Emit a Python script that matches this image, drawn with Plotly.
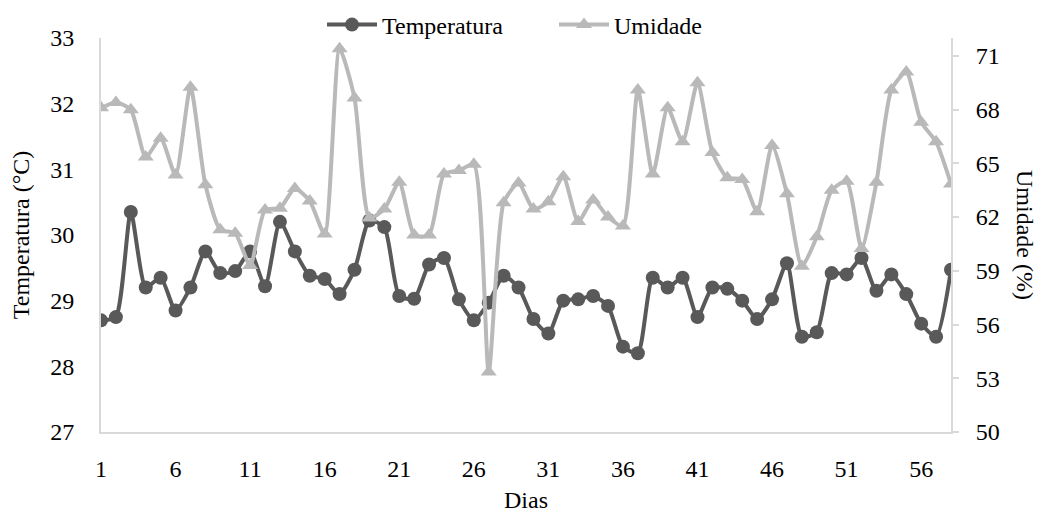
import plotly.graph_objects as go

dias = list(range(1, 59))

temperatura = [
    28.70, 28.75, 30.35, 29.20, 29.35, 28.85, 29.20, 29.75, 29.42, 29.45,
    29.75, 29.22, 30.20, 29.75, 29.38, 29.33, 29.10, 29.47, 30.22, 30.12,
    29.07, 29.03, 29.55, 29.65, 29.02, 28.70, 28.97, 29.38, 29.20, 28.72,
    28.50, 29.00, 29.02, 29.07, 28.92, 28.30, 28.20, 29.35, 29.20, 29.35,
    28.75, 29.20, 29.18, 29.00, 28.72, 29.02, 29.57, 28.45, 28.52, 29.42,
    29.40, 29.65, 29.15, 29.40, 29.10, 28.65, 28.45, 29.47,
]

umidade = [
    68.1, 68.4, 68.0, 65.35, 66.4, 64.35, 69.25, 63.8, 61.3, 61.1,
    59.3, 62.4, 62.5, 63.6, 62.9, 61.05, 71.4, 68.65, 61.95, 62.45,
    63.95, 61.0, 61.0, 64.4, 64.6, 64.95, 53.35, 62.8, 63.9, 62.45,
    62.85, 64.25, 61.75, 62.95, 62.0, 61.5, 69.1, 64.4, 68.1, 66.2,
    69.5, 65.6, 64.2, 64.1, 62.3, 66.0, 63.3, 59.25, 60.9, 63.5,
    64.0, 60.25, 63.95, 69.1, 70.1, 67.3, 66.2, 63.85,
]

x_ticks = [1, 6, 11, 16, 21, 26, 31, 36, 41, 46, 51, 56]
temp_ticks = [27, 28, 29, 30, 31, 32, 33]
umid_ticks = [50, 53, 56, 59, 62, 65, 68, 71]

FONT = "Liberation Serif"
AXIS = "#d9d9d9"
DARK = "#595959"
LIGHT = "#b9b9b9"
TXT = dict(family=FONT, size=24, color="black")

fig = go.Figure()
fig.add_trace(go.Scatter(
    x=dias, y=temperatura, name="Temperatura", mode="lines+markers",
    line=dict(color=DARK, width=4, shape="spline", smoothing=0.6),
    marker=dict(symbol="circle", size=14, color=DARK),
    yaxis="y",
))
fig.add_trace(go.Scatter(
    x=dias, y=umidade, name="Umidade", mode="lines+markers",
    line=dict(color=LIGHT, width=4, shape="spline", smoothing=0.6),
    marker=dict(symbol="triangle-up", size=14, color=LIGHT),
    yaxis="y2",
))

fig.update_layout(
    width=1040, height=513,
    margin=dict(l=101, r=89, t=38, b=81, autoexpand=False),
    paper_bgcolor="white", plot_bgcolor="white",
    font=TXT,
    showlegend=True,
    legend=dict(
        orientation="h", x=(322 - 101) / 850, xanchor="left",
        yref="container", y=1 - 25 / 513, yanchor="middle",
        font=TXT, bgcolor="rgba(0,0,0,0)", itemwidth=50, tracegroupgap=0,
        entrywidth=167, entrywidthmode="pixels",
    ),
    xaxis=dict(
        range=[1, 58], tickvals=x_ticks, ticktext=[str(v) for v in x_ticks],
        showgrid=False, zeroline=False, showline=True, linecolor=AXIS, linewidth=2,
        ticks="", ticklabelstandoff=14, automargin=False, tickfont=TXT,
    ),
    yaxis=dict(
        range=[27, 33], tickvals=temp_ticks,
        showgrid=False, zeroline=False, showline=True, linecolor=AXIS, linewidth=2,
        ticks="", ticklabelstandoff=20, automargin=False, tickfont=TXT,
        title=dict(text="Temperatura (°C)", font=TXT, standoff=14),
    ),
    yaxis2=dict(
        range=[50, 72], tickvals=umid_ticks, overlaying="y", side="right",
        showgrid=False, zeroline=False, showline=True, linecolor=AXIS, linewidth=2,
        ticks="outside", ticklen=6, tickcolor=AXIS, tickwidth=1.5,
        ticklabelstandoff=12, automargin=False, tickfont=TXT,
    ),
)

# x-axis title
fig.add_annotation(
    text="Dias", xref="paper", yref="paper", x=0.5, y=0, yshift=-68,
    xanchor="center", yanchor="middle", showarrow=False, font=TXT,
)

# right-hand axis title reads top to bottom
fig.add_annotation(
    text="Umidade (%)", textangle=90, xref="paper", yref="paper",
    x=1.0, xshift=74, y=0.5, xanchor="center", yanchor="middle",
    showarrow=False, font=TXT,
)

fig.write_html("out.html")
